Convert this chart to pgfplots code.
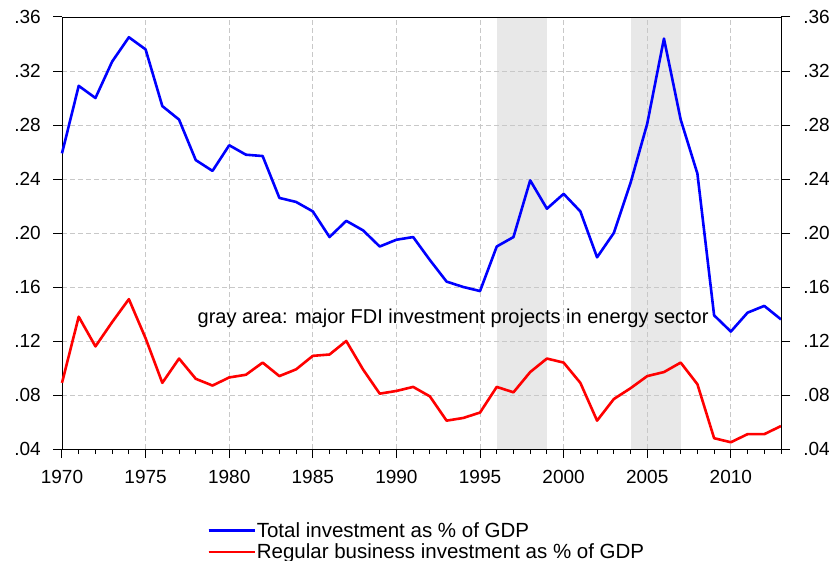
\documentclass[border=0pt]{standalone}
\usepackage{pgfplots}
\pgfplotsset{compat=1.18}
\usepackage{pgfplotstable}
\usepackage{fontspec}
\setmainfont{Liberation Sans}
\definecolor{band}{RGB}{232,232,232}
\definecolor{gridc}{RGB}{200,200,200}
\pgfplotstableread{
year total regular
1970 0.259 0.089
1971 0.309 0.138
1972 0.300 0.116
1973 0.327 0.134
1974 0.345 0.151
1975 0.336 0.122
1976 0.294 0.089
1977 0.284 0.107
1978 0.254 0.092
1979 0.246 0.087
1980 0.265 0.093
1981 0.258 0.095
1982 0.257 0.104
1983 0.226 0.094
1984 0.223 0.099
1985 0.216 0.109
1986 0.197 0.110
1987 0.209 0.120
1988 0.202 0.099
1989 0.190 0.081
1990 0.195 0.083
1991 0.197 0.086
1992 0.180 0.079
1993 0.164 0.061
1994 0.160 0.063
1995 0.157 0.067
1996 0.190 0.086
1997 0.197 0.082
1998 0.239 0.097
1999 0.218 0.107
2000 0.229 0.104
2001 0.216 0.089
2002 0.182 0.061
2003 0.200 0.077
2004 0.237 0.085
2005 0.281 0.094
2006 0.344 0.097
2007 0.284 0.104
2008 0.244 0.088
2009 0.139 0.048
2010 0.127 0.045
2011 0.141 0.051
2012 0.146 0.051
2013 0.136 0.057
}\data
\begin{document}
\begin{tikzpicture}
\pgfplotsset{
  common/.style={
    width=719pt, height=432pt, scale only axis,
    xmin=1970, xmax=2013, ymin=0.04, ymax=0.36,
    ytick={0.04,0.08,0.12,0.16,0.20,0.24,0.28,0.32,0.36},
    yticklabels={.04,.08,.12,.16,.20,.24,.28,.32,.36},
    tick align=outside,
    major tick length=9pt, minor tick length=5pt,
    tick style={draw=black, line width=1pt},
    tick label style={font=\fontsize{19}{19}\selectfont},
  }
}
\begin{axis}[common,
  set layers, clip=false,
  xtick={1970,1975,1980,1985,1990,1995,2000,2005,2010},
  xticklabels={1970,1975,1980,1985,1990,1995,2000,2005,2010},
  minor x tick num=4,
  xtick pos=bottom, ytick pos=left,
  xticklabel style={yshift=-9pt},
  yticklabel style={xshift=-8.7pt},
  grid=major,
  major grid style={gridc, dash pattern=on 5pt off 3pt, line width=0.8pt},
  legend style={draw=none, fill=none, at={(0.2017,-0.167)}, anchor=north west,
    font=\fontsize{20.5}{20.5}\selectfont, inner sep=0pt, row sep=3pt,
    nodes={inner sep=1pt}},
  legend cell align=left,
  legend image code/.code={\draw[#1, line width=2.6pt] (0pt,0pt) -- (42pt,0pt); \path (0pt,0pt) -- (46pt,0pt);},
]
\addplot[on layer=axis background, fill=band, draw=none, forget plot]
  coordinates {(1996,0.04) (1996,0.36) (1999,0.36) (1999,0.04)} -- cycle;
\addplot[on layer=axis background, fill=band, draw=none, forget plot]
  coordinates {(2004,0.04) (2004,0.36) (2007,0.36) (2007,0.04)} -- cycle;
\addplot[color={rgb,255:red,0;green,0;blue,255}, line width=2.6pt, line join=round] table[x=year, y=total] {\data};
\addlegendentry{Total investment as \% of GDP}
\addplot[color={rgb,255:red,255;green,0;blue,0}, line width=2.6pt, line join=round] table[x=year, y=regular] {\data};
\addlegendentry{Regular business investment as \% of GDP}
\node[anchor=base west, font=\fontsize{20}{20}\selectfont, inner sep=0pt] at (axis cs:1978.1,0.1333)
  {gray area: major FDI investment projects in energy sector};
% axis tick marks (decoration)
\pgfplotsinvokeforeach{1970,1971,...,2013}{
  \draw[black, line width=1pt] (axis cs:#1,0.04) -- ++(0pt,-5pt);
}
\pgfplotsinvokeforeach{1970,1975,...,2010}{
  \draw[black, line width=1pt] (axis cs:#1,0.04) -- ++(0pt,-9pt);
}
\pgfplotsinvokeforeach{0.04,0.08,0.12,0.16,0.20,0.24,0.28,0.32,0.36}{
  \draw[black, line width=1pt] (axis cs:1970,#1) -- ++(-9pt,0pt);
  \draw[black, line width=1pt] (axis cs:2013,#1) -- ++(9pt,0pt);
}
\end{axis}
\begin{axis}[common,
  hide x axis,
  axis y line*=right,
  ytick pos=right, yticklabel pos=right,
  yticklabel style={xshift=9.7pt},
]
\end{axis}
\pgfresetboundingbox
\path[use as bounding box] (-62pt,-111pt) rectangle (770pt,449pt);
\end{tikzpicture}
\end{document}
